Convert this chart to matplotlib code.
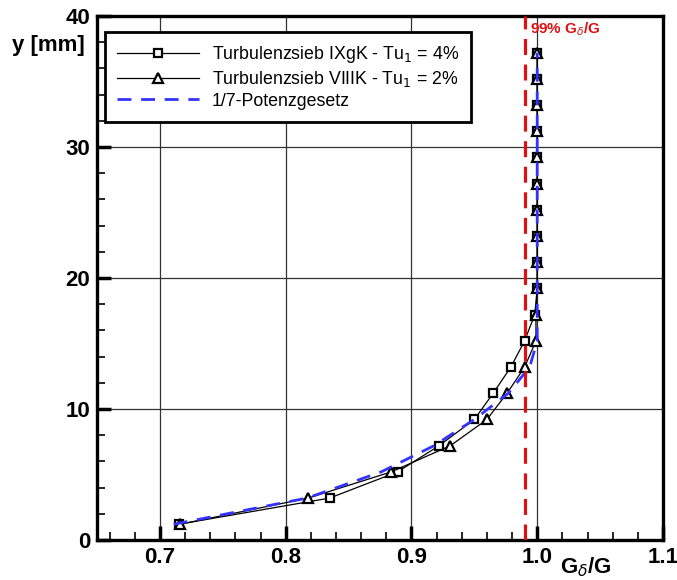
import matplotlib
matplotlib.use("Agg")
import matplotlib.pyplot as plt
from matplotlib.ticker import MultipleLocator

plt.rcParams['font.family'] = ['Liberation Sans', 'DejaVu Sans']

# wall distance of the measuring points [mm]
y_mm = [1.2, 3.2, 5.2, 7.2, 9.2, 11.2, 13.2, 15.2, 17.2, 19.2,
        21.2, 23.2, 25.2, 27.2, 29.2, 31.2, 33.2, 35.2, 37.2]

# Turbulenzsieb IXgK, Tu1 = 4%
g_ixgk = [0.715, 0.835, 0.889, 0.922, 0.950, 0.965, 0.979, 0.990, 0.998, 1.0,
          1.0, 1.0, 1.0, 1.0, 1.0, 1.0, 1.0, 1.0, 1.0]
# Turbulenzsieb VIIIK, Tu1 = 2%
g_viiik = [0.716, 0.818, 0.884, 0.931, 0.960, 0.976, 0.990, 0.999, 0.999, 1.0,
           1.0, 1.0, 1.0, 1.0, 1.0, 1.0, 1.0, 1.0, 1.0]
# 1/7 power law
g_potenz = [0.711, 0.817, 0.876, 0.918, 0.950, 0.977, 0.994, 1.0, 1.0, 1.0,
            1.0, 1.0, 1.0, 1.0, 1.0, 1.0, 1.0, 1.0, 1.0]

g99 = 0.99

fig = plt.figure(figsize=(6.77, 5.80), dpi=100)
ax = fig.add_axes([0.1433, 0.069, 0.836, 0.9034])

ax.grid(True, which='major', color='#333333', linewidth=0.9, zorder=0)
ax.set_axisbelow(True)

ax.plot(g_ixgk, y_mm, color='black', linewidth=0.9, marker='s', markersize=6.3,
        markerfacecolor='white', markeredgecolor='black', markeredgewidth=1.6,
        label='Turbulenzsieb IXgK - Tu$_1$ = 4%', zorder=3)
ax.plot(g_viiik, y_mm, color='black', linewidth=0.9, marker='^', markersize=7.5,
        markerfacecolor='white', markeredgecolor='black', markeredgewidth=1.6,
        label='Turbulenzsieb VIIIK - Tu$_1$ = 2%', zorder=3)
ax.plot(g_potenz, y_mm, color='#3333ff', linewidth=2.0, linestyle=(0, (5, 3.5)),
        label='1/7-Potenzgesetz', zorder=4)

ax.axvline(g99, color='#dd1111', linewidth=2.3, linestyle=(0, (5, 3)), zorder=5)
ax.text(g99 + 0.004, 39.7, r'99% G$_\delta$/G', color='#dd1111', fontsize=11,
        fontweight='bold', ha='left', va='top')

ax.set_xlim(0.65, 1.1)
ax.set_ylim(0, 40)
ax.xaxis.set_minor_locator(MultipleLocator(0.02))
ax.yaxis.set_minor_locator(MultipleLocator(2))
ax.set_xticks([0.7, 0.8, 0.9, 1.0, 1.1])
ax.set_xticklabels(['0.7', '0.8', '0.9', '1.0', '1.1'])
ax.set_yticks([0, 10, 20, 30, 40])

ax.tick_params(which='major', direction='in', length=10, width=2.5,
               labelsize=16, pad=5, top=False, right=False)
ax.tick_params(which='minor', direction='in', length=6, width=1.2,
               top=False, right=False)
for lab in ax.get_xticklabels() + ax.get_yticklabels():
    lab.set_fontweight('bold')

for sp in ax.spines.values():
    sp.set_linewidth(2.4)

fig.text(0.018, 0.921, 'y [mm]', fontsize=16, fontweight='bold', ha='left', va='center')
fig.text(0.866, 0.022, r'G$_\delta$/G', fontsize=16, fontweight='bold', ha='center', va='center')

leg = ax.legend(loc='upper left', bbox_to_anchor=(0.014, 0.9695), fontsize=12.8,
                fancybox=False, edgecolor='black', framealpha=1,
                handlelength=4.6, handletextpad=0.7, borderpad=0.7,
                labelspacing=0.2, borderaxespad=0)
leg.get_frame().set_linewidth(2.0)
leg.set_zorder(6)

fig.savefig('out.png', dpi=100)
